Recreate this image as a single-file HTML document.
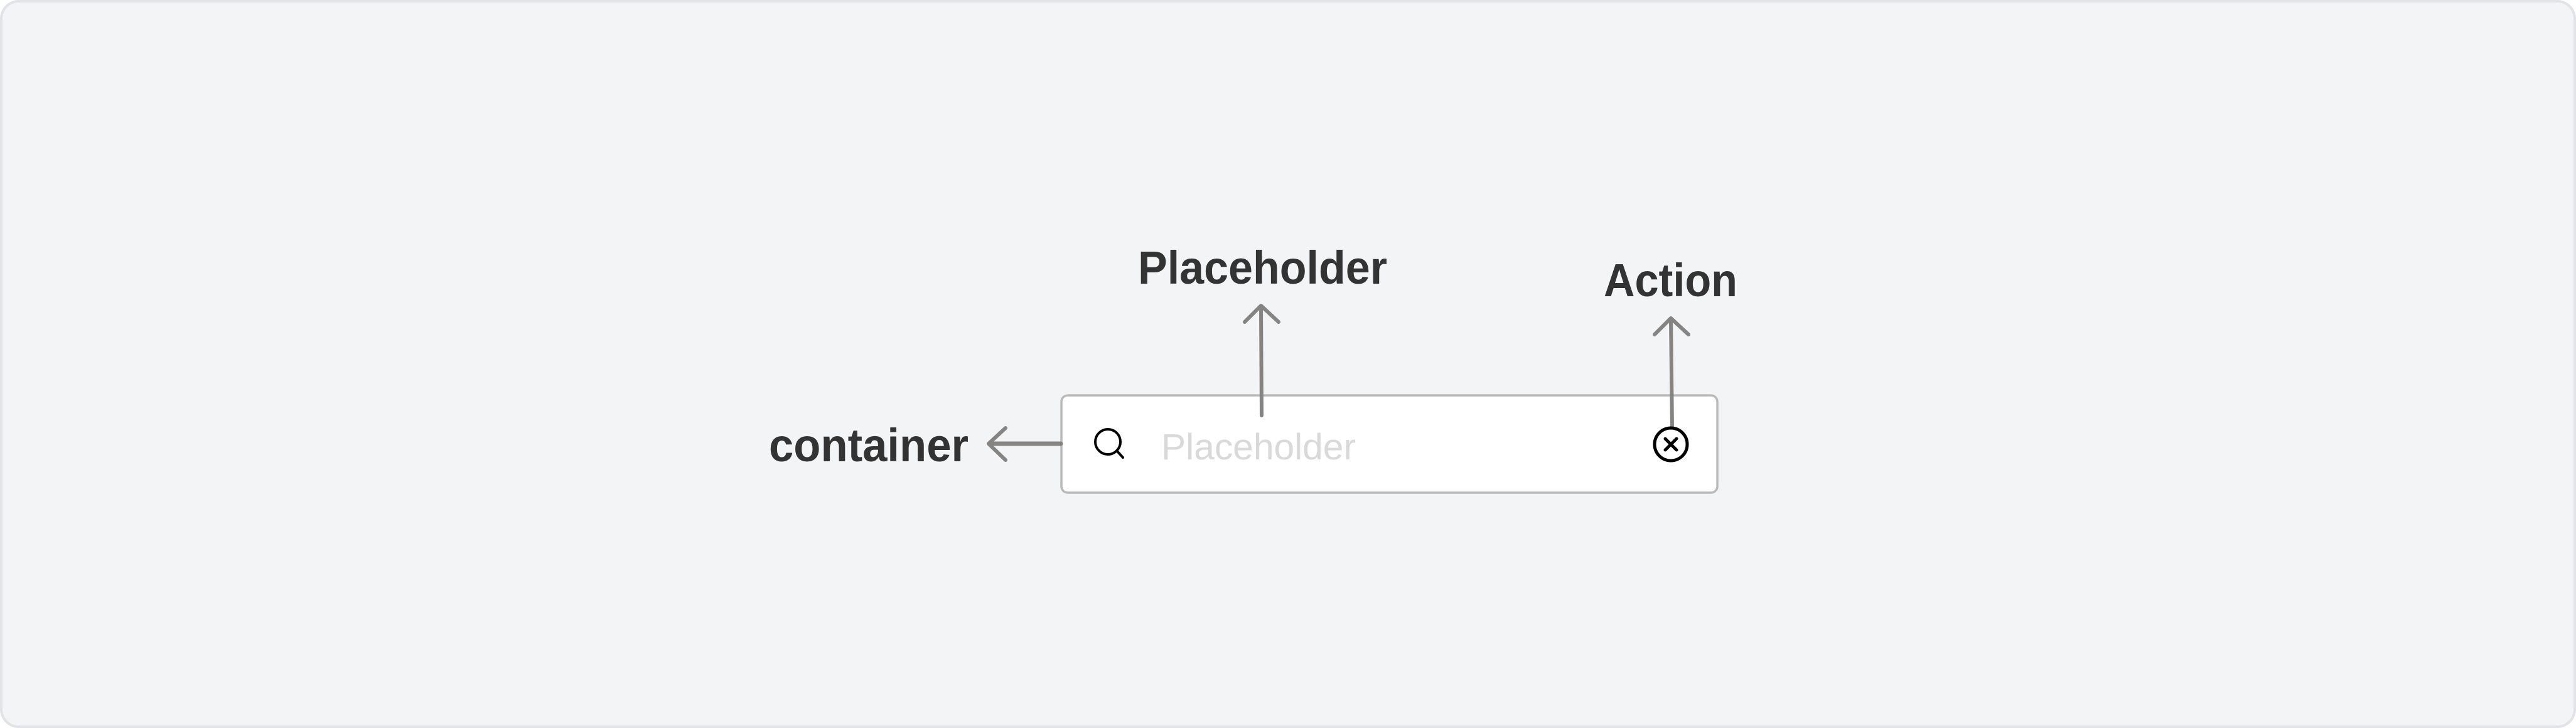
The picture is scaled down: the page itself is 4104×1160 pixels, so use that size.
<!DOCTYPE html>
<html><head><meta charset="utf-8"><style>
html,body{margin:0;padding:0;width:4104px;height:1160px;overflow:hidden;background:#fff}
svg{display:block}
</style></head><body>
<svg width="4104" height="1160" viewBox="0 0 4104 1160" xmlns="http://www.w3.org/2000/svg">
<rect x="2" y="2" width="4100" height="1156" rx="28" fill="#f3f4f6" stroke="#e2e3e6" stroke-width="4"/>
<rect x="1691" y="630" width="1045" height="155" rx="10" fill="#fff" stroke="#b9b9b9" stroke-width="3.5"/>
<g font-family="Liberation Sans, sans-serif" font-weight="bold" fill="#333">
<text x="1813" y="452" font-size="74" textLength="397" lengthAdjust="spacingAndGlyphs">Placeholder</text>
<text x="2555" y="472" font-size="74" textLength="213" lengthAdjust="spacingAndGlyphs">Action</text>
<text x="1225" y="735" font-size="74" textLength="318" lengthAdjust="spacingAndGlyphs">container</text>
</g>
<text x="1850" y="732" font-family="Liberation Sans, sans-serif" font-size="58" fill="#d9d9d9" textLength="310" lengthAdjust="spacingAndGlyphs">Placeholder</text>
<g stroke="#858483" stroke-width="6" fill="none" stroke-linecap="round" stroke-linejoin="round">
<line x1="2010" y1="662" x2="2009" y2="488"/>
<polyline points="1983,513 2009,487 2037,513"/>
<line x1="2664" y1="682" x2="2662" y2="508"/>
<polyline points="2636,533 2662,507 2690,533"/>
<line x1="1690" y1="707" x2="1576" y2="707" stroke-width="7"/>
<polyline points="1602,682 1575,707 1602,733"/>
</g>
<g stroke="#000" fill="none" stroke-linecap="round">
<circle cx="1765" cy="704" r="20" stroke-width="4"/>
<line x1="1779" y1="718" x2="1789" y2="729" stroke-width="4"/>
<circle cx="2662" cy="708" r="26" stroke-width="5" fill="#fff"/>
<line x1="2653" y1="699" x2="2671" y2="717" stroke-width="5"/>
<line x1="2671" y1="699" x2="2653" y2="717" stroke-width="5"/>
</g>
</svg>
</body></html>
